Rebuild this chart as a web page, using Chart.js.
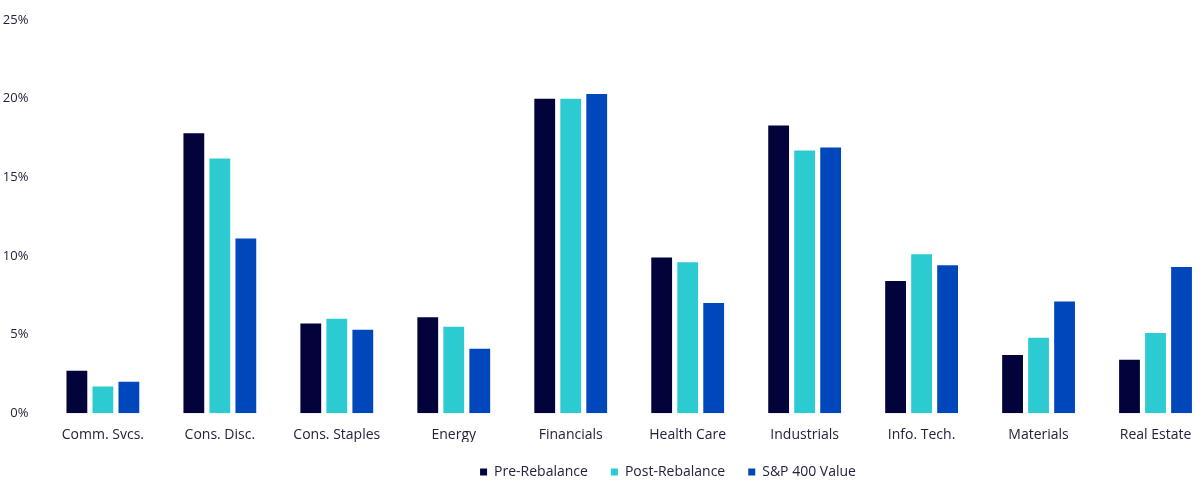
<!DOCTYPE html>
<html>
<head>
<meta charset="utf-8">
<script src="https://cdn.jsdelivr.net/npm/chart.js@4"></script>
<style>
  html, body { margin: 0; padding: 0; overflow: hidden; background: #ffffff; }
  #wrap { position: absolute; left: 0; top: 0; width: 1214px; height: 493px; }
</style>
</head>
<body>
<div id="wrap"><canvas id="c"></canvas></div>
<script>
const categories = ['Comm. Svcs.', 'Cons. Disc.', 'Cons. Staples', 'Energy', 'Financials', 'Health Care', 'Industrials', 'Info. Tech.', 'Materials', 'Real Estate'];
const preRebalance = [2.7, 17.8, 5.7, 6.1, 20.0, 9.9, 18.3, 8.4, 3.7, 3.4];
const postRebalance = [1.7, 16.2, 6.0, 5.5, 20.0, 9.6, 16.7, 10.1, 4.8, 5.1];
const sp400Value = [2.0, 11.1, 5.3, 4.1, 20.3, 7.0, 16.9, 9.4, 7.1, 9.3];
const yTickMax = 25;
const yTickStep = 5;

const textColor = '#22223f';
const fontFamily = "'Open Sans', 'Noto Sans', sans-serif";

const legendShift = {
  id: 'legendShift',
  afterLayout(chart) {
    const l = chart.legend;
    if (l) { l.left += 61; l.right += 61; }
  }
};

new Chart(document.getElementById('c'), {
  type: 'bar',
  data: {
    labels: categories,
    datasets: [
      { label: 'Pre-Rebalance', data: preRebalance, backgroundColor: '#02033a' },
      { label: 'Post-Rebalance', data: postRebalance, backgroundColor: '#2ccbd1' },
      { label: 'S&P 400 Value', data: sp400Value, backgroundColor: '#0047bb' }
    ]
  },
  options: {
    responsive: true,
    maintainAspectRatio: false,
    animation: false,
    layout: { padding: { top: 20, bottom: 4, left: 0, right: 0 } },
    datasets: { bar: { categoryPercentage: 0.667, barPercentage: 0.8 } },
    scales: {
      x: {
        grid: { display: false, drawTicks: false },
        border: { display: false },
        ticks: { color: textColor, font: { family: fontFamily, size: 14 }, padding: 13, maxRotation: 0, autoSkip: false },
        afterFit(scale) { scale.height -= 14; }
      },
      y: {
        min: 0,
        max: yTickMax,
        grid: { display: false, drawTicks: false },
        border: { display: false },
        ticks: {
          stepSize: yTickStep,
          color: textColor,
          font: { family: fontFamily, size: 13 },
          padding: 16,
          callback: v => v + '%'
        },
        afterFit(scale) { scale.width = 44.4; scale.paddingTop = 0; }
      }
    },
    plugins: {
      legend: {
        position: 'bottom',
        labels: {
          color: textColor,
          font: { family: fontFamily, size: 14 },
          boxWidth: 7,
          boxHeight: 7,
          padding: 23
        }
      },
      tooltip: { enabled: false }
    }
  },
  plugins: [legendShift]
});
</script>
</body>
</html>
